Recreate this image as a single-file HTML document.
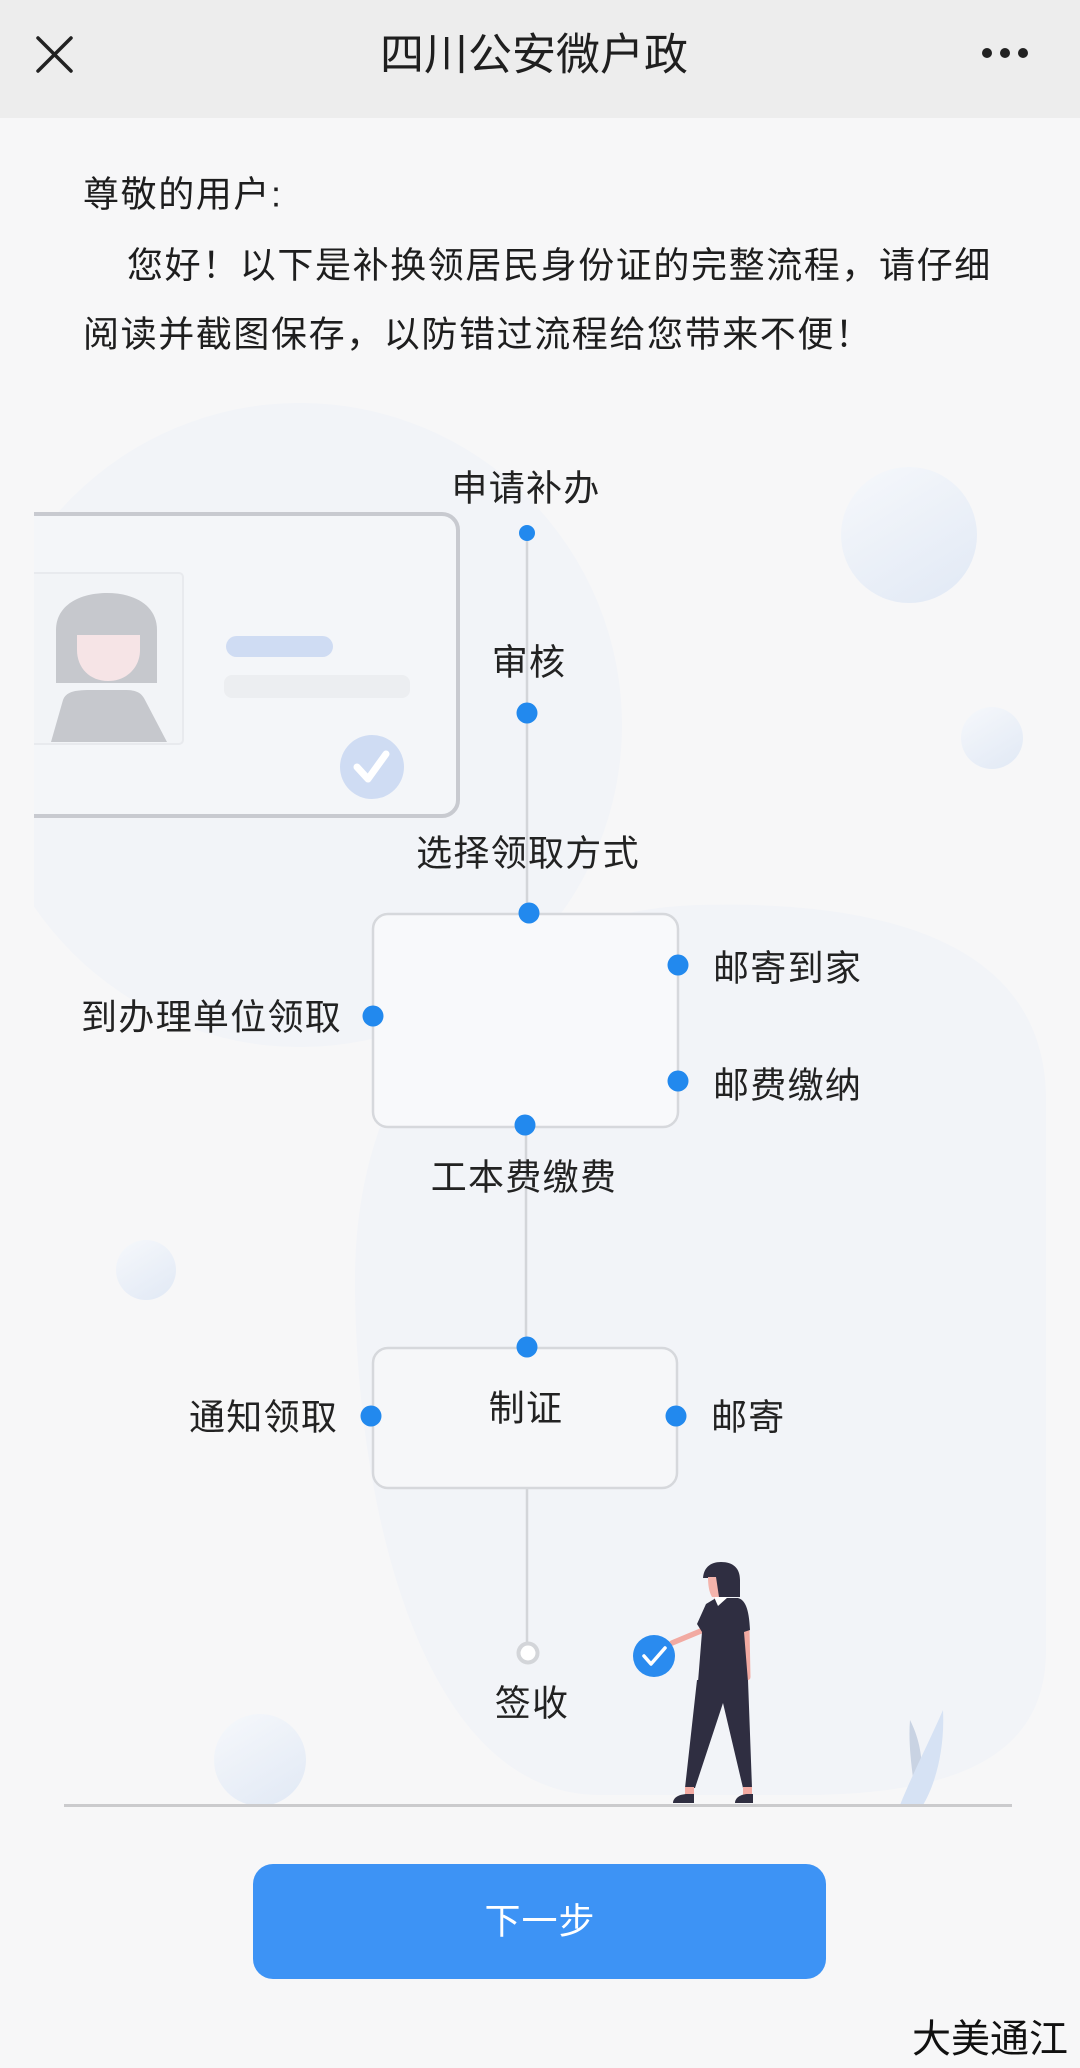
<!DOCTYPE html>
<html lang="zh">
<head>
<meta charset="utf-8">
<style>
  html,body{margin:0;padding:0;}
  body{width:1080px;height:2068px;overflow:hidden;background:#f7f7f8;
       font-family:"Liberation Sans","Noto Sans CJK SC",sans-serif;}
  svg{display:block;}
  text{font-family:"Liberation Sans","Noto Sans CJK SC",sans-serif;}
</style>
</head>
<body>
<svg width="1080" height="2068" viewBox="0 0 1080 2068" xmlns="http://www.w3.org/2000/svg">
  <defs>
    <clipPath id="clipL"><rect x="34" y="118" width="1046" height="1688"/></clipPath>
    <clipPath id="clipFloor"><rect x="0" y="118" width="1080" height="1686"/></clipPath>
    <linearGradient id="bub" x1="0" y1="0" x2="0.6" y2="1">
      <stop offset="0" stop-color="#f6f8fb"/>
      <stop offset="1" stop-color="#e4ebf6"/>
    </linearGradient>
  </defs>

  <!-- page background -->
  <rect x="0" y="0" width="1080" height="2068" fill="#f7f7f8"/>

  <!-- header -->
  <rect x="0" y="0" width="1080" height="118" fill="#ededed"/>
  <g stroke="#222" stroke-width="3.5" stroke-linecap="round">
    <line x1="38" y1="38" x2="71" y2="71"/>
    <line x1="71" y1="38" x2="38" y2="71"/>
  </g>
  <text x="534" y="55" font-size="44" fill="#1f1f1f" text-anchor="middle" dominant-baseline="central">四川公安微户政</text>
  <circle cx="987" cy="53" r="5" fill="#222"/>
  <circle cx="1005" cy="53" r="5" fill="#222"/>
  <circle cx="1023" cy="53" r="5" fill="#222"/>

  <!-- intro text -->
  <g font-size="36" fill="#1e1e1e" letter-spacing="1.6">
    <text x="83" y="194" dominant-baseline="central">尊敬的用户:</text>
    <text x="127" y="265" dominant-baseline="central">您好！以下是补换领居民身份证的完整流程，请仔细</text>
    <text x="83" y="334" dominant-baseline="central">阅读并截图保存，以防错过流程给您带来不便！</text>
  </g>

  <!-- background blobs -->
  <g clip-path="url(#clipL)">
    <circle cx="300" cy="725" r="322" fill="#f2f4f8"/>
  </g>
  <path d="M700,905 C900,900 1046,950 1046,1100 L1046,1650 C1046,1760 950,1795 800,1795 L600,1795 C420,1795 355,1500 355,1280 C355,1050 500,910 700,905 Z" fill="#f2f4f8"/>
  <circle cx="909" cy="535" r="68" fill="url(#bub)"/>
  <circle cx="992" cy="738" r="31" fill="url(#bub)"/>
  <circle cx="146" cy="1270" r="30" fill="url(#bub)"/>
  <g clip-path="url(#clipFloor)">
    <ellipse cx="260" cy="1760" rx="46" ry="46" fill="url(#bub)"/>
  </g>

  <!-- ID card illustration -->
  <g clip-path="url(#clipL)">
    <rect x="10" y="514" width="448" height="302" rx="16" ry="16" fill="#f4f6f9" stroke="#c8cad0" stroke-width="4"/>
    <rect x="20" y="573" width="163" height="171" rx="4" fill="#f2f4f7" stroke="#e8eaee" stroke-width="2"/>
    <!-- hair -->
    <path d="M56,683 L56,630 C56,605 80,593 107,593 C134,593 157,605 157,630 L157,683 Z" fill="#c6c8cd"/>
    <!-- face -->
    <path d="M77,635 L140,635 L140,650 C140,668 126,681 108,681 C90,681 77,668 77,650 Z" fill="#f6e4e6"/>
    <!-- body -->
    <path d="M51,742 L63,700 C66,692 74,690 90,690 L125,690 C138,690 142,694 145,700 L167,742 Z" fill="#c6c8cd"/>
    <!-- bars -->
    <rect x="226" y="636" width="107" height="21" rx="10.5" fill="#cfdcf3"/>
    <rect x="224" y="675" width="186" height="23" rx="8" fill="#eceef1"/>
    <!-- check -->
    <circle cx="372" cy="767" r="32" fill="#cfdcf3"/>
    <polyline points="357,767 368,779 386,754" fill="none" stroke="#fff" stroke-width="7" stroke-linecap="round" stroke-linejoin="round"/>
  </g>

  <!-- connector lines -->
  <g stroke="#d3d5d9" stroke-width="2.5">
    <line x1="527" y1="533" x2="527" y2="913"/>
    <line x1="526" y1="1125" x2="526" y2="1347"/>
    <line x1="527" y1="1488" x2="527" y2="1643"/>
  </g>

  <!-- boxes -->
  <rect x="373" y="914" width="305" height="213" rx="15" fill="#f8f9fb" stroke="#d6d8dc" stroke-width="2.5"/>
  <rect x="373" y="1348" width="304" height="140" rx="15" fill="#f6f7f9" stroke="#d6d8dc" stroke-width="2.5"/>

  <!-- dots -->
  <g fill="#2289ee">
    <circle cx="527" cy="533" r="8"/>
    <circle cx="527" cy="713" r="10.5"/>
    <circle cx="529" cy="913" r="10.5"/>
    <circle cx="678" cy="965" r="10.5"/>
    <circle cx="678" cy="1081" r="10.5"/>
    <circle cx="373" cy="1016" r="10.5"/>
    <circle cx="525" cy="1125" r="10.5"/>
    <circle cx="527" cy="1347" r="10.5"/>
    <circle cx="371" cy="1416" r="10.5"/>
    <circle cx="676" cy="1416" r="10.5"/>
  </g>
  <circle cx="528" cy="1653" r="9.5" fill="#ffffff" stroke="#d3d5d9" stroke-width="4"/>

  <!-- labels -->
  <g font-size="36" fill="#222" letter-spacing="1.3">
    <text x="526" y="488" text-anchor="middle" dominant-baseline="central">申请补办</text>
    <text x="529" y="662" text-anchor="middle" dominant-baseline="central">审核</text>
    <text x="528" y="853" text-anchor="middle" dominant-baseline="central">选择领取方式</text>
    <text x="713" y="968" dominant-baseline="central">邮寄到家</text>
    <text x="713" y="1085" dominant-baseline="central">邮费缴纳</text>
    <text x="81" y="1017" dominant-baseline="central">到办理单位领取</text>
    <text x="524" y="1177" text-anchor="middle" dominant-baseline="central">工本费缴费</text>
    <text x="526" y="1408" text-anchor="middle" dominant-baseline="central">制证</text>
    <text x="189" y="1417" dominant-baseline="central">通知领取</text>
    <text x="711" y="1417" dominant-baseline="central">邮寄</text>
    <text x="532" y="1703" text-anchor="middle" dominant-baseline="central">签收</text>
  </g>

  <!-- leaves -->
  <path d="M910,1720 C920,1740 924,1760 922,1800 L916,1800 C912,1770 908,1745 910,1720 Z" fill="#c9d3e3"/>
  <path d="M943,1710 C945,1750 935,1785 923,1805 L900,1805 C912,1775 930,1740 943,1710 Z" fill="#d6e2f4"/>

  <!-- person -->
  <g>
    <!-- arms -->
    <line x1="708" y1="1628" x2="672" y2="1643" stroke="#f2aaa2" stroke-width="5.5" stroke-linecap="round"/>
    <line x1="746" y1="1628" x2="747" y2="1677" stroke="#f2aaa2" stroke-width="7" stroke-linecap="round"/>
    <!-- neck -->
    <rect x="714" y="1590" width="8" height="10" fill="#f2aaa2"/>
    <!-- shirt -->
    <path d="M716,1598 L738,1598 C745,1600 749,1608 750,1630 L744,1632 L748,1682 L698,1682 L702,1632 L697,1624 L706,1604 Z" fill="#2f2e41"/>
    <!-- collar -->
    <path d="M714,1597 L728,1597 L718,1606 Z" fill="#ffffff"/>
    <!-- hair -->
    <path d="M703,1580 C703,1568 710,1562 721,1562 C733,1562 740,1568 740,1580 L740,1597 L718,1597 L714,1578 L703,1578 Z" fill="#2f2e41"/>
    <!-- face -->
    <path d="M708,1577 L716,1577 L719,1597 L712,1597 C709,1592 708,1585 708,1577 Z" fill="#f4b4ac"/>
    <!-- pants -->
    <path d="M697,1680 L748,1680 L752,1788 L743,1788 L723,1703 L695,1788 L685,1788 Z" fill="#2f2e41"/>
    <!-- ankles -->
    <rect x="685" y="1787" width="9" height="8" fill="#f2aaa2"/>
    <rect x="743" y="1787" width="9" height="8" fill="#f2aaa2"/>
    <!-- shoes -->
    <path d="M673,1803 C673,1797 680,1794 688,1794 L694,1794 L694,1803 Z" fill="#2f2e41"/>
    <path d="M735,1803 C735,1797 742,1794 748,1794 L753,1794 L753,1803 Z" fill="#2f2e41"/>
    <!-- check circle -->
    <circle cx="654" cy="1656" r="21" fill="#2a8bef"/>
    <polyline points="644,1656 651,1664 665,1648" fill="none" stroke="#fff" stroke-width="3.5" stroke-linecap="round" stroke-linejoin="round"/>
  </g>

  <!-- floor line -->
  <rect x="64" y="1804" width="948" height="3" fill="#cbcbcd"/>

  <!-- button -->
  <rect x="253" y="1864" width="573" height="115" rx="20" fill="#3d93f5"/>
  <text x="540" y="1921" font-size="36" fill="#ffffff" text-anchor="middle" dominant-baseline="central" letter-spacing="1">下一步</text>

  <!-- watermark -->
  <text x="912" y="2040" font-size="39" fill="#111" dominant-baseline="central">大美通江</text>
</svg>
</body>
</html>
